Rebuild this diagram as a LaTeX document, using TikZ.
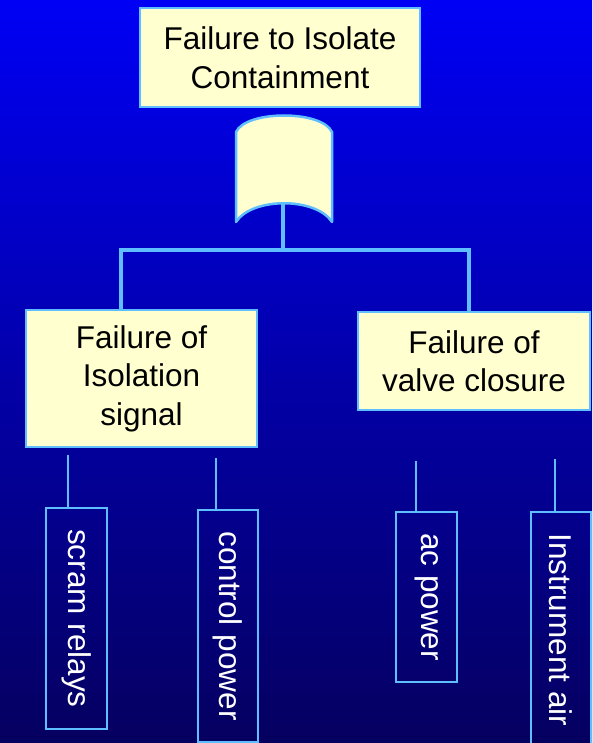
\documentclass[tikz,border=0pt]{standalone}
\usepackage{fontspec}
\setmainfont{Liberation Sans}
\definecolor{bgtop}{RGB}{0,0,245}
\definecolor{bgbot}{RGB}{5,0,95}
\definecolor{lineblue}{RGB}{95,190,255}
\definecolor{boxfill}{RGB}{255,255,208}
\tikzset{
  evbox/.style={draw=lineblue, line width=2.5pt, fill=boxfill, text=black, align=center,
    font=\fontsize{31.5}{38.5}\selectfont, inner sep=0pt},
  leafbox/.style={draw=lineblue, line width=2.2pt, text=white, rotate=-90,
    font=\fontsize{31.5}{38.5}\selectfont, inner sep=0pt},
  conn/.style={draw=lineblue, line width=3.5pt, line join=miter},
  leafline/.style={draw=lineblue, line width=2pt},
  gatestyle/.style={draw=lineblue, line width=2.5pt, fill=boxfill, line join=round}
}
\begin{document}
\begin{tikzpicture}[x=1pt,y=-1pt]
\useasboundingbox (0,0) rectangle (592,743);
\clip (0,0) rectangle (592,743);
\shade[top color=bgtop, bottom color=bgbot] (0,0) rectangle (592,743);

% top event
\node[evbox, minimum width=280pt, minimum height=99pt] (top) at (280,57.5)
  {Failure to Isolate\\Containment};

% OR gate
\draw[gatestyle] (236,222) -- (236,132) .. controls (246,110) and (322,110) .. (332,132)
  -- (332,222) .. controls (316,197) and (252,197) .. (236,222) -- cycle;
\coordinate (gateout) at (283,203.5);
\coordinate (bar) at (283,250);

% intermediate events
\node[evbox, minimum width=231pt, minimum height=137pt] (lbox) at (141.5,378.5)
  {Failure of\\Isolation\\signal};
\node[evbox, minimum width=232pt, minimum height=98pt] (rbox) at (474,361)
  {Failure of\\valve closure};

\coordinate (ldrop) at (121,310);
\coordinate (rdrop) at (469,312);

\draw[conn] (gateout) -- (bar);
\draw[conn] (ldrop) -- (ldrop |- bar) -- (rdrop |- bar) -- (rdrop);

% basic events
\node[leafbox, minimum width=221pt, minimum height=61pt] (scram) at (76.5,618.5) {scram relays};
\node[leafbox, minimum width=232pt, minimum height=60pt] (ctrl) at (228,626) {control power};
\node[leafbox, minimum width=170pt, minimum height=61pt] (acp) at (426.5,597) {ac power};
\node[leafbox, minimum width=236pt, minimum height=60pt] (inst) at (561,630) {Instrument air};

\coordinate (s1) at (68,455);
\coordinate (s2) at (216,458);
\coordinate (s3) at (416.3,461);
\coordinate (s4) at (554.7,459);
\draw[leafline] (s1) -- (s1 |- scram.west);
\draw[leafline] (s2) -- (s2 |- ctrl.west);
\draw[leafline] (s3) -- (s3 |- acp.west);
\draw[leafline] (s4) -- (s4 |- inst.west);
\end{tikzpicture}
\end{document}
